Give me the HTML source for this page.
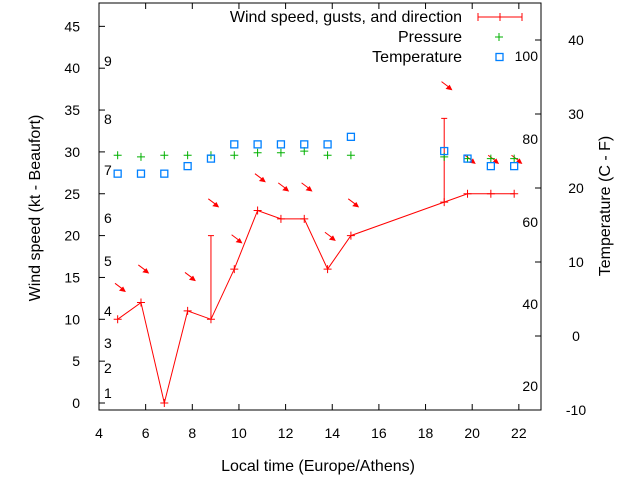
<!DOCTYPE html>
<html><head><meta charset="utf-8"><style>
body{margin:0;background:#fff;}
svg{display:block;font-family:"Liberation Sans",sans-serif;font-size:14px;}
.big{font-size:16px;}
</style></head><body>
<svg id="c" width="640" height="480">
<g id="g"></g>
</svg>
<script>
const times=[4.8,5.8,6.8,7.8,8.8,9.8,10.8,11.8,12.8,13.8,14.8,18.8,19.8,20.8,21.8];
const speeds=[10,12,0,11,10,16,23,22,22,16,20,24,25,25,25];
const gusts=[null,null,null,null,20,null,null,null,null,null,null,34,null,null,null];
const arrowY=[13.7,15.9,null,15,23.8,19.5,26.8,25.7,25.7,19.8,23.8,37.8,29,29,29];
const pressure=[29.6,29.4,29.6,29.6,29.6,29.6,29.9,29.9,30.1,29.6,29.6,29.4,29.2,29.2,29.2];
const temperature=[27.4,27.4,27.4,28.3,29.2,30.9,30.9,30.9,30.9,30.9,31.8,30.1,29.2,28.3,28.3];
const xTicks=[4,6,8,10,12,14,16,18,20,22];
const yTicks=[0,5,10,15,20,25,30,35,40,45];
const cTicks=[-10,0,10,20,30,40];
const fLabels=[[20,386],[40,304],[60,222],[80,139],[100,56]];
const bLabels=[[1,393],[2,368],[3,343],[4,311],[5,261],[6,218],[7,170],[8,119],[9,61]];
const L=99,R=541,T=3,B=410;
const X=t=>L+(t-4)*(R-L)/18.95;
const Y=v=>403-v*8.37;
const C=c=>336-c*7.4;
const NS="http://www.w3.org/2000/svg",g=document.getElementById('g');
function el(tag,attrs,txt){const e=document.createElementNS(NS,tag);for(const k in attrs)e.setAttribute(k,attrs[k]);if(txt!==undefined)e.textContent=txt;g.appendChild(e);return e;}
let e;
e=el('rect',{x:L,y:T,width:R-L,height:B-T,fill:'none',stroke:'#000','stroke-width':1});


xTicks.forEach(t=>{
 el('line',{x1:X(t),x2:X(t),y1:B,y2:B-6,stroke:'#000'});
 el('line',{x1:X(t),x2:X(t),y1:T,y2:T+6,stroke:'#000'});
 e=el('text',{x:X(t),y:438,'text-anchor':'middle'},t);
 
 
});
yTicks.forEach(v=>{
 el('line',{x1:L,x2:L+6,y1:Y(v),y2:Y(v),stroke:'#000'});
 e=el('text',{x:80,y:Y(v)+5,'text-anchor':'end'},v);
 
 
});
cTicks.forEach(v=>{
 el('line',{x1:R-6,x2:R,y1:C(v),y2:C(v),stroke:'#000'});
 e=el('text',{x:576,y:C(v)+5,'text-anchor':'middle'},v);
 
 
});
fLabels.forEach(([f,y])=>{
 e=el('text',{x:538,y:y+5,'text-anchor':'end'},f);
 
 
});
bLabels.forEach(([b,y])=>{
 e=el('text',{x:104,y:y+5},b);
 
 
});
e=el('polyline',{points:times.map((t,i)=>X(t)+','+Y(speeds[i])).join(' '),fill:'none',stroke:'#f00','stroke-width':1});


times.forEach((t,i)=>{
 const x=X(t),y=Y(speeds[i]);
 el('path',{d:`M${x-4},${y}h8M${x},${y-4}v8`,stroke:'#f00'});
 if(gusts[i]!=null){
  const gy=Y(gusts[i]);
  e=el('path',{d:`M${x},${y}V${gy}M${x-3},${gy}h6`,stroke:'#f00'});
  
  
 }
 if(arrowY[i]!=null){
  const ax=X(t+0.1)-5,ay=Y(arrowY[i])-5;
  e=el('path',{d:`M${ax},${ay}L${ax+8},${ay+6}M${ax+10},${ay+8}l-5,-1l3,-3z`,stroke:'#f00',fill:'#f00','stroke-width':1});
  
  
 }
 const py=Y(pressure[i]);
 e=el('path',{d:`M${x-4},${py}h8M${x},${py-4}v8`,stroke:'#00b000'});
 
 
 const ty=Y(temperature[i]);
 e=el('rect',{x:x-3.5,y:ty-3.5,width:7,height:7,fill:'none',stroke:'#0080ff','stroke-width':1.3});
 
 
});
e=el('text',{x:462,y:22,'text-anchor':'end',class:'big'},'Wind speed, gusts, and direction');


el('path',{d:'M478,17h44M478,13v8M500,13v8M522,13v8',stroke:'#f00'});
e=el('text',{x:462,y:42,'text-anchor':'end',class:'big'},'Pressure');


el('path',{d:'M495,37h8M499,33v8',stroke:'#00b000'});
e=el('text',{x:462,y:62,'text-anchor':'end',class:'big'},'Temperature');


el('rect',{x:496,y:53.5,width:7,height:7,fill:'none',stroke:'#0080ff','stroke-width':1.3});
e=el('text',{x:318,y:471,'text-anchor':'middle',class:'big'},'Local time (Europe/Athens)');


e=el('text',{x:0,y:0,'text-anchor':'middle',class:'big',transform:'translate(40,208) rotate(-90)'},'Wind speed (kt - Beaufort)');


e=el('text',{x:0,y:0,'text-anchor':'middle',class:'big',transform:'translate(610,206) rotate(-90)'},'Temperature (C - F)');


</script>
</body></html>
